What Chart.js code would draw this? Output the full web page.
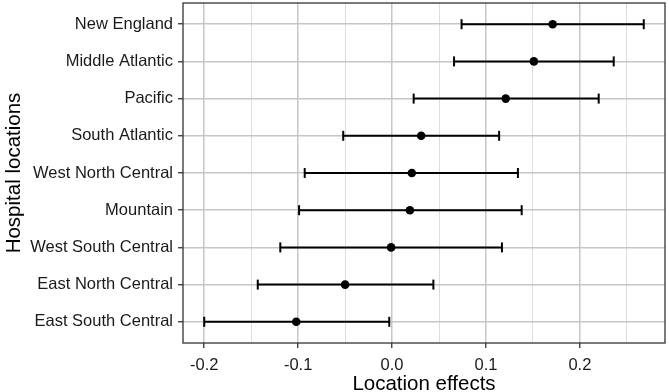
<!DOCTYPE html>
<html>
<head>
<meta charset="utf-8">
<script src="https://cdn.jsdelivr.net/npm/chart.js@4.4.1/dist/chart.umd.min.js"></script>
<style>
  html, body { margin: 0; padding: 0; background: #fff; }
  #wrap { width: 669px; height: 392px; }
</style>
</head>
<body>
<div id="wrap"><canvas id="canvas"></canvas></div>
<script>
// location effects, top row first
var locations = ['New England', 'Middle Atlantic', 'Pacific', 'South Atlantic', 'West North Central',
                 'Mountain', 'West South Central', 'East North Central', 'East South Central'];
var estimates = [0.171, 0.151, 0.121, 0.031, 0.021, 0.019, -0.001, -0.050, -0.102];
var lower     = [0.074, 0.066, 0.023, -0.052, -0.093, -0.099, -0.119, -0.143, -0.200];
var upper     = [0.268, 0.236, 0.220, 0.114, 0.134, 0.138, 0.117, 0.044, -0.003];
var xMajor = [-0.2, -0.1, 0.0, 0.1, 0.2];
var xMinor = [-0.15, -0.05, 0.05, 0.15, 0.25];

var FONT = "'Liberation Sans', Arial, Helvetica, sans-serif";

function isMajor(v) {
  return xMajor.some(function (m) { return Math.abs(m - v) < 1e-9; });
}

var datasets = [{
  label: 'estimate',
  order: 0,
  data: locations.map(function (l, i) { return { x: estimates[i], y: i }; }),
  pointRadius: 4.3,
  pointBackgroundColor: '#000',
  pointBorderWidth: 0,
  showLine: false
}];
locations.forEach(function (l, i) {
  datasets.push({
    label: l,
    order: 1,
    data: [{ x: lower[i], y: i }, { x: upper[i], y: i }],
    showLine: true,
    borderColor: '#000',
    borderWidth: 2,
    pointStyle: 'line',
    rotation: 90,
    pointRadius: 5,
    pointBorderWidth: 2,
    pointBorderColor: '#000'
  });
});

// panel frame like ggplot theme_bw
var frame = {
  id: 'frame',
  afterDatasetsDraw: function (chart) {
    var a = chart.chartArea, ctx = chart.ctx;
    ctx.save();
    ctx.strokeStyle = '#333';
    ctx.lineWidth = 1.3;
    ctx.strokeRect(a.left, a.top, a.right - a.left, a.bottom - a.top);
    ctx.restore();
  }
};

window.onload = function () {
  var ctx = document.getElementById('canvas').getContext('2d');
  window.myChart = new Chart(ctx, {
    type: 'scatter',
    data: { datasets: datasets },
    plugins: [frame],
    options: {
      responsive: true,
      maintainAspectRatio: false,
      animation: false,
      layout: { autoPadding: false, padding: { top: 3, right: 4, left: 0, bottom: 0 } },
      plugins: { legend: { display: false }, tooltip: { enabled: false } },
      scales: {
        x: {
          type: 'linear',
          min: -0.2226,
          max: 0.2906,
          afterBuildTicks: function (scale) {
            scale.ticks = xMajor.concat(xMinor).sort(function (a, b) { return a - b; })
              .map(function (v) { return { value: v }; });
          },
          afterFit: function (scale) {
            scale.height = 49;
            scale.paddingLeft = 0;
            scale.paddingRight = 0;
          },
          grid: {
            color: function (c) { return isMajor(c.tick.value) ? '#c6c6c6' : '#d9d9d9'; },
            lineWidth: function (c) { return isMajor(c.tick.value) ? 1.5 : 0.9; },
            tickColor: function (c) { return isMajor(c.tick.value) ? '#333' : 'rgba(0,0,0,0)'; },
            tickLength: 5,
            tickWidth: 1.3
          },
          border: { display: false },
          ticks: {
            autoSkip: false,
            maxRotation: 0,
            padding: 8,
            color: '#1a1a1a',
            font: { family: FONT, size: 16.5 },
            callback: function (v) { return isMajor(v) ? v.toFixed(1) : ''; }
          },
          title: {
            display: true,
            text: 'Location effects',
            color: '#000',
            font: { family: FONT, size: 20.5 },
            padding: { top: 0, bottom: -5 }
          }
        },
        y: {
          type: 'linear',
          reverse: true,
          min: -0.57,
          max: locations.length - 0.43,
          afterBuildTicks: function (scale) {
            scale.ticks = locations.map(function (l, i) { return { value: i }; });
          },
          afterFit: function (scale) {
            scale.width = 183;
            scale.paddingTop = 0;
            scale.paddingBottom = 0;
          },
          grid: {
            color: '#c6c6c6',
            lineWidth: 1.5,
            tickColor: '#333',
            tickLength: 5,
            tickWidth: 1.3
          },
          border: { display: false },
          ticks: {
            autoSkip: false,
            padding: 5,
            color: '#1a1a1a',
            font: { family: FONT, size: 16.5 },
            callback: function (v) { return locations[v]; }
          },
          title: {
            display: true,
            text: 'Hospital locations',
            color: '#000',
            font: { family: FONT, size: 20.5 },
            padding: { top: 2, bottom: 0 }
          }
        }
      }
    }
  });
};
</script>
</body>
</html>
